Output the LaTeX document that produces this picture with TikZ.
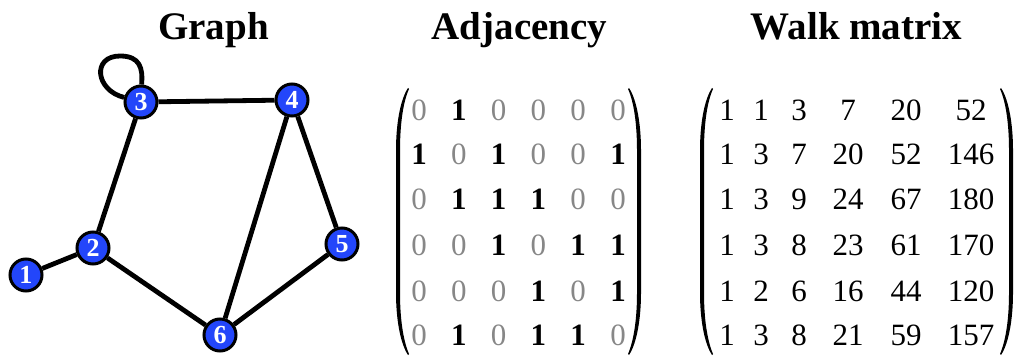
\documentclass[tikz,border=0pt]{standalone}
\usepackage{fontspec}
\setmainfont{Liberation Serif}
\definecolor{nodeblue}{RGB}{35,70,250}
\definecolor{zerogray}{RGB}{135,135,135}
\begin{document}
\begin{tikzpicture}[x=1pt,y=1pt,
  title/.style={font=\fontsize{39}{42}\selectfont\bfseries, inner sep=0pt, anchor=base},
  vert/.style={circle, draw=black, line width=3pt, fill=nodeblue, minimum size=32pt, inner sep=0pt,
    text=white, font=\fontsize{26}{28}\selectfont\bfseries},
  edge/.style={line width=4.8pt, black},
  entry/.style={inner sep=0pt, anchor=base, font=\fontsize{31}{36}\selectfont},
  v0/.style={entry, text=zerogray},
  v1/.style={entry, font=\fontsize{31}{36}\selectfont\bfseries, text=black},
  paren/.pic={\fill (10,0) .. controls (2,-12) and (-2,-37) .. (-2,-62) -- (-2,-205)
      .. controls (-2,-230) and (2,-255) .. (10,-267) -- (11,-266)
      .. controls (5,-252) and (2,-230) .. (2,-205) -- (2,-62)
      .. controls (2,-37) and (5,-14) .. (11,-1) -- cycle;}
]
\useasboundingbox (0,0) rectangle (1016,356);

% titles
\node[title] (tgraph) at (213.5,316) {Graph};
\node[title] (tadj) at (519.5,316) {Adjacency};
\node[title] (twalk) at (856.5,316) {Walk matrix};

% graph
\node[vert] (g1) at (26,81) {1};
\node[vert] (g2) at (93,108) {2};
\node[vert] (g3) at (141,254) {3};
\node[vert] (g4) at (292,256) {4};
\node[vert] (g5) at (342,112) {5};
\node[vert] (g6) at (220,21) {6};
\draw[edge] (g1) -- (g2);
\draw[edge] (g2) -- (g3);
\draw[edge] (g3) -- (g4);
\draw[edge] (g4) -- (g5);
\draw[edge] (g4) -- (g6);
\draw[edge] (g5) -- (g6);
\draw[edge] (g2) -- (g6);
\draw[edge] (g3.165) .. controls (95,266) and (92,300) .. (120,300)
  .. controls (140,300) and (143,288) .. (g3.88);

% adjacency matrix
\foreach \r/\y/\vals in {1/235/{0,1,0,0,0,0}, 2/191/{1,0,1,0,0,1}, 3/146/{0,1,1,1,0,0},
                         4/100/{0,0,1,0,1,1}, 5/55/{0,0,0,1,0,1}, 6/11/{0,1,0,1,1,0}}{
  \foreach \v [count=\c] in \vals {
    \pgfmathsetmacro{\xx}{419+39.8*(\c-1)}
    \node[v\v] (a\r\c) at (\xx,\y) {\v};
  }
}
\pic at (398,268) {paren};
\pic[xscale=-1] at (639,268) {paren};

% walk matrix
\foreach \r/\y/\vals in {1/235/{1,1,3,7,20,52}, 2/191/{1,3,7,20,52,146}, 3/146/{1,3,9,24,67,180},
                         4/100/{1,3,8,23,61,170}, 5/55/{1,2,6,16,44,120}, 6/11/{1,3,8,21,59,157}}{
  \foreach \v [count=\c] in \vals {
    \pgfmathsetmacro{\xx}{{727,761,799,848,906,971}[\c-1]}
    \node[entry] (w\r\c) at (\xx,\y) {\v};
  }
}
\pic at (702,268) {paren};
\pic[xscale=-1] at (1011,268) {paren};
\end{tikzpicture}
\end{document}
